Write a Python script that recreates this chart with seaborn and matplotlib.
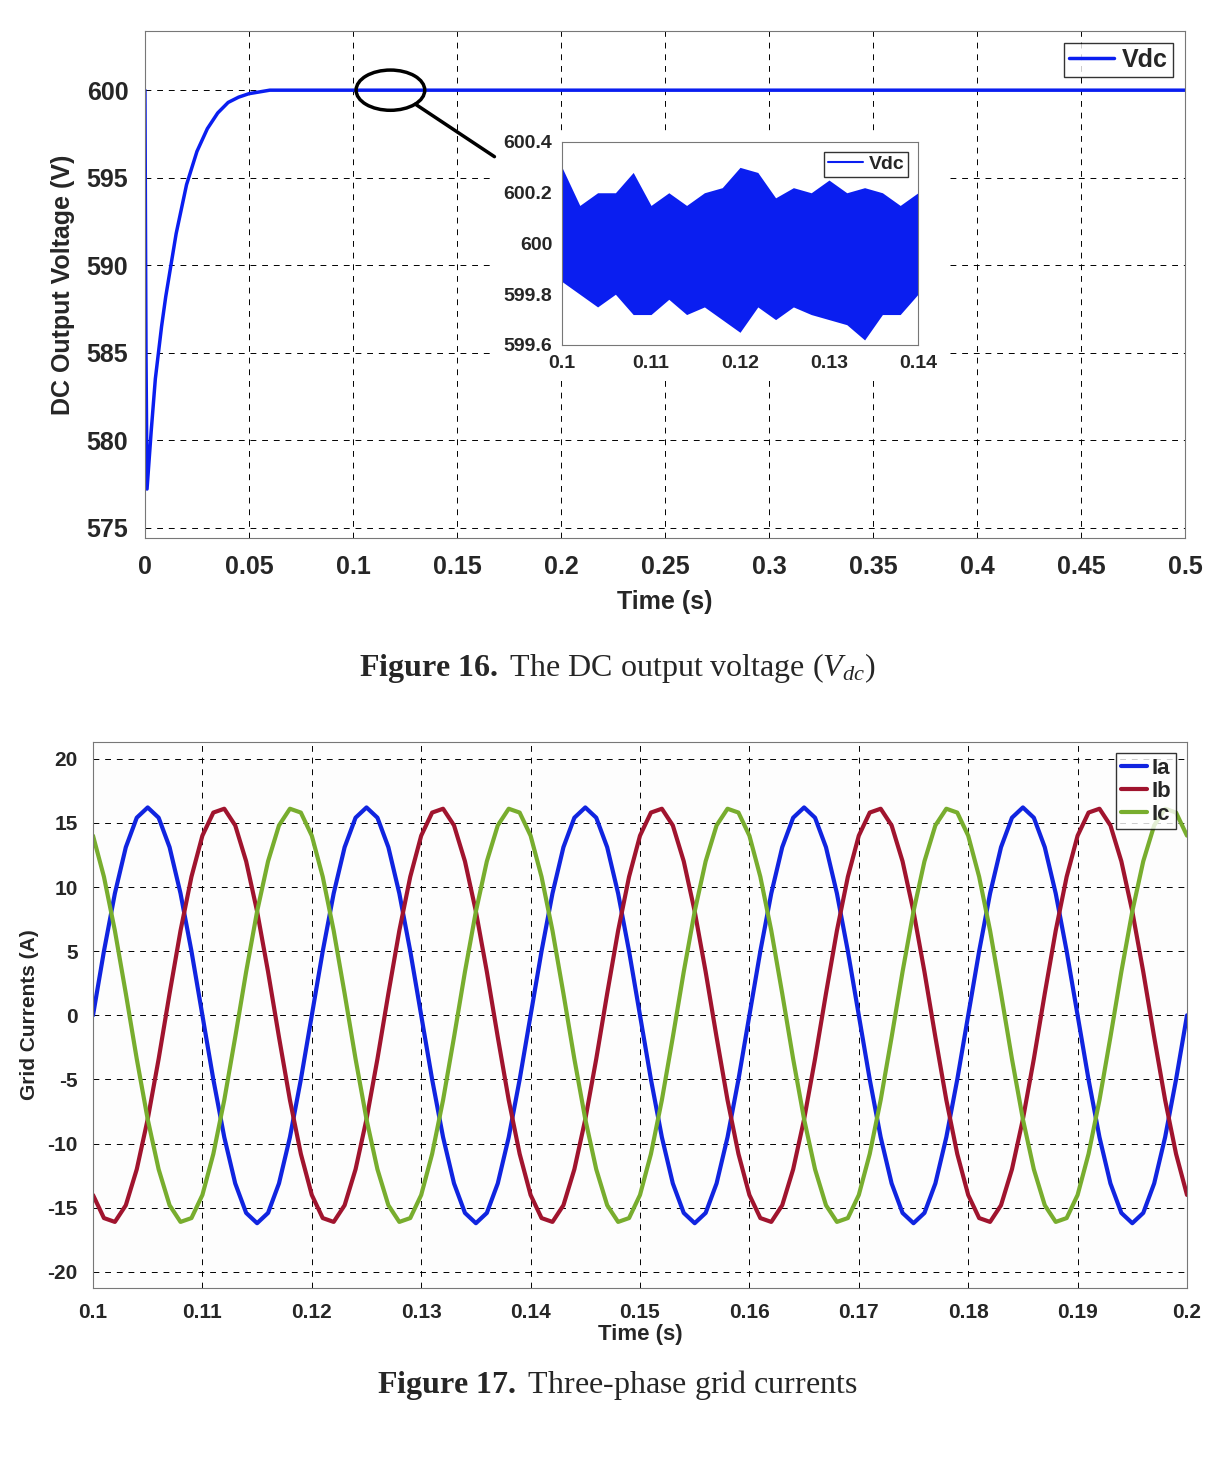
import numpy as np
import pandas as pd
import seaborn as sns
from matplotlib import pyplot as plt
from matplotlib.patches import Ellipse, Rectangle

# DC link voltage
vdc_t = [0, 0.0005, 0.001, 0.003, 0.005, 0.008, 0.01, 0.015, 0.02, 0.025, 0.03, 0.035, 0.04,
         0.045, 0.05, 0.06, 0.08, 0.1, 0.2, 0.3, 0.4, 0.5]
vdc_v = [600, 585, 577.2, 580.5, 583.5, 586.5, 588.2, 591.8, 594.6, 596.5, 597.8, 598.7, 599.3,
         599.6, 599.8, 600, 600, 600, 600, 600, 600, 600]

# zoomed ripple envelope (inset), 0.1..0.14 s
zoom_t = np.linspace(0.1, 0.14, 21)
zoom_hi = [600.3, 600.15, 600.2, 600.2, 600.28, 600.15, 600.2, 600.15, 600.2, 600.22, 600.3,
           600.28, 600.18, 600.22, 600.2, 600.25, 600.2, 600.22, 600.2, 600.15, 600.2]
zoom_lo = [599.85, 599.8, 599.75, 599.8, 599.72, 599.72, 599.78, 599.72, 599.75, 599.7, 599.65,
           599.75, 599.7, 599.75, 599.72, 599.7, 599.68, 599.62, 599.72, 599.72, 599.8]

# grid currents, one 20 ms period sampled every 1 ms (Figure 17)
ia_period = [0, 5.0, 9.5, 13.1, 15.4, 16.2, 15.4, 13.1, 9.5, 5.0, 0, -5.0, -9.5, -13.1, -15.4,
             -16.2, -15.4, -13.1, -9.5, -5.0]
ib_period = [-14.0, -15.8, -16.1, -14.8, -12.0, -8.1, -3.4, 1.7, 6.6, 10.8, 14.0, 15.8, 16.1,
             14.8, 12.0, 8.1, 3.4, -1.7, -6.6, -10.8]
ic_period = [14.0, 10.8, 6.6, 1.7, -3.4, -8.1, -12.0, -14.8, -16.1, -15.8, -14.0, -10.8, -6.6,
             -1.7, 3.4, 8.1, 12.0, 14.8, 16.1, 15.8]
n_periods = 5

colors = {'Ia': '#1024e0', 'Ib': '#a0142e', 'Ic': '#78ad2e'}


def style_axes(ax, fs, pad):
    ax.grid(True, color='black', linestyle=(0, (6, 6)), linewidth=0.7)
    for s in ax.spines.values():
        s.set_color('#777777')
    ax.tick_params(labelsize=fs, length=4, direction='in', pad=pad)
    for lab in ax.get_xticklabels() + ax.get_yticklabels():
        lab.set_fontweight('bold')


def main():
    sns.set_style('white')
    plt.rcParams['font.family'] = ['Liberation Sans', 'DejaVu Sans']
    plt.rcParams['axes.unicode_minus'] = False
    plt.rcParams['mathtext.fontset'] = 'custom'
    plt.rcParams['mathtext.rm'] = 'Liberation Serif'
    plt.rcParams['mathtext.bf'] = 'Liberation Serif:bold'
    plt.rcParams['mathtext.it'] = 'Liberation Serif:italic'
    fig = plt.figure(figsize=(12.18, 14.62), dpi=100)

    # ---- Figure 16
    ax = fig.add_axes([0.119, 0.632, 0.854, 0.347])
    sns.lineplot(x=vdc_t, y=vdc_v, ax=ax, color='#0a1ef0', linewidth=2.5, label='Vdc')
    ax.set_xlim(0, 0.5)
    ax.set_ylim(574.4, 603.4)
    ax.set_xticks(np.arange(0, 0.51, 0.05))
    ax.set_xticklabels(['0', '0.05', '0.1', '0.15', '0.2', '0.25', '0.3', '0.35', '0.4', '0.45', '0.5'])
    ax.set_yticks([575, 580, 585, 590, 595, 600])
    style_axes(ax, 18, 12)
    ax.set_xlabel('Time (s)', fontsize=18, fontweight='bold', labelpad=8)
    ax.set_ylabel('DC Output Voltage (V)', fontsize=18, fontweight='bold', labelpad=8)
    ax.legend(loc='upper right', prop={'size': 18, 'weight': 'bold'}, handlelength=1.8,
              borderpad=0.2, handletextpad=0.3, fancybox=False, edgecolor='black')
    ax.add_patch(Rectangle((0.337, 0.31), 0.433, 0.49, transform=ax.transAxes,
                           facecolor='white', edgecolor='none', zorder=3))
    ax.add_patch(Ellipse((0.118, 600), 0.033, 2.3, fill=False, edgecolor='black', lw=2.5, zorder=4))
    ax.plot([0.13, 0.168], [599.2, 596.2], color='black', lw=2.5, zorder=4)

    ins = fig.add_axes([562 / 1218, 1 - 345 / 1462, 356 / 1218, 203 / 1462])
    ins.fill_between(zoom_t, zoom_lo, zoom_hi, color='#0a1ef0', linewidth=0)
    sns.lineplot(x=[0.1, 0.1], y=[600, 600], ax=ins, color='#0a1ef0', label='Vdc')
    ins.set_xlim(0.1, 0.14)
    ins.set_ylim(599.6, 600.4)
    ins.set_xticks([0.1, 0.11, 0.12, 0.13, 0.14])
    ins.set_xticklabels(['0.1', '0.11', '0.12', '0.13', '0.14'])
    ins.set_yticks([599.6, 599.8, 600, 600.2, 600.4])
    ins.set_yticklabels(['599.6', '599.8', '600', '600.2', '600.4'])
    for s in ins.spines.values():
        s.set_color('#777777')
    ins.tick_params(labelsize=14, length=3, direction='in', pad=7)
    for lab in ins.get_xticklabels() + ins.get_yticklabels():
        lab.set_fontweight('bold')
    ins.legend(loc='upper right', prop={'size': 14, 'weight': 'bold'}, handlelength=1.8,
               borderpad=0.2, handletextpad=0.3, fancybox=False, edgecolor='black')

    fig.text(0.507, 1 - 668 / 1462, r'$\bf{Figure\ 16.}$ The DC output voltage ($\it{V_{dc}}$)',
             ha='center', va='center', fontsize=23, family='Liberation Serif')

    # ---- Figure 17
    t = np.arange(len(ia_period) * n_periods + 1) * 0.001 + 0.1
    df = pd.DataFrame({
        't': np.concatenate([t] * 3),
        'val': np.concatenate([np.tile(p, n_periods + 1)[:len(t)]
                               for p in (ia_period, ib_period, ic_period)]),
        'phase': np.repeat(['Ia', 'Ib', 'Ic'], len(t)),
    })
    bx = fig.add_axes([93 / 1218, 1 - 1288 / 1462, 1094 / 1218, 546 / 1462])
    bx.set_facecolor('#fdfdfd')
    sns.lineplot(data=df, x='t', y='val', hue='phase', palette=colors, ax=bx, linewidth=3)
    bx.set_xlim(0.1, 0.2)
    bx.set_ylim(-21.25, 21.3)
    bx.set_xticks(np.round(np.arange(0.1, 0.201, 0.01), 2))
    bx.set_xticklabels(['0.1', '0.11', '0.12', '0.13', '0.14', '0.15', '0.16', '0.17', '0.18', '0.19', '0.2'])
    bx.set_yticks(np.arange(-20, 21, 5))
    style_axes(bx, 15, 11)
    bx.set_xlabel('Time (s)', fontsize=16, fontweight='bold', labelpad=1)
    bx.set_ylabel('Grid Currents (A)', fontsize=15, fontweight='bold', labelpad=6)
    bx.legend(loc='upper right', title=None, prop={'size': 16, 'weight': 'bold'}, handlelength=1.2,
              borderpad=0.2, labelspacing=0.1, handletextpad=0.2, fancybox=False, edgecolor='black')

    fig.text(0.507, 1 - 1385 / 1462, r'$\bf{Figure\ 17.}$ Three-phase grid currents',
             ha='center', va='center', fontsize=23, family='Liberation Serif')

    fig.savefig('out.png', dpi=100)


if __name__ == '__main__':
    main()
